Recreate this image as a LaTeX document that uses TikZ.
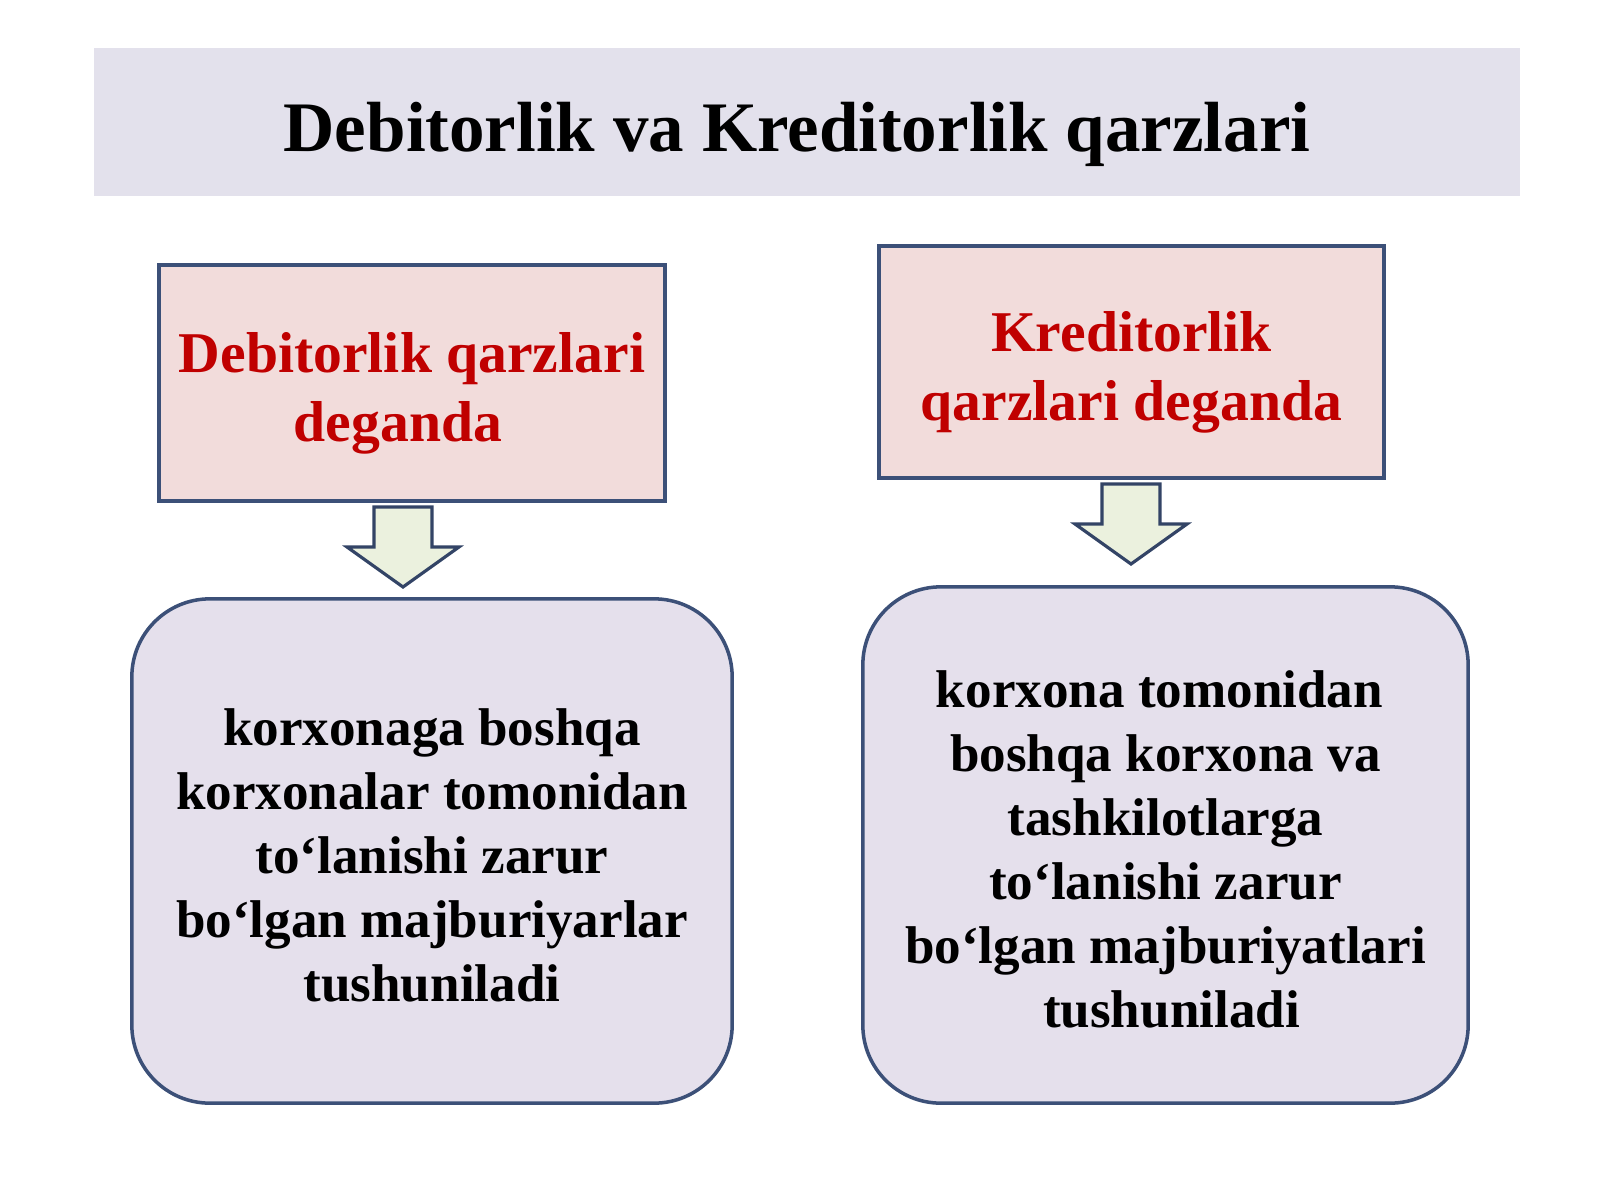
\documentclass[tikz,border=0pt]{standalone}
\usepackage{fontspec}
\setmainfont{Liberation Serif}
\usepackage{tikz}
\definecolor{bannergray}{HTML}{E3E1EC}
\definecolor{edgeblue}{HTML}{3C5078}
\definecolor{headpink}{HTML}{F2DCDB}
\definecolor{headred}{HTML}{C00000}
\definecolor{bodylilac}{HTML}{E5E0EC}
\definecolor{arrowgreen}{HTML}{EBF1DE}
\tikzset{
  qarz title/.style={font=\fontsize{20.2}{24}\selectfont\bfseries},
  qarz head/.style={draw=edgeblue, line width=1pt, fill=headpink},
  qarz headtext/.style={align=center, text=headred, font=\fontsize{16.4}{19.6}\selectfont\bfseries},
  qarz body/.style={draw=edgeblue, line width=1pt, fill=bodylilac, rounded corners=0.78cm},
  qarz bodytext/.style={align=center, font=\fontsize{15.1}{18.2}\selectfont\bfseries},
  qarz arrow/.style={draw=edgeblue!85!black, line width=0.9pt, fill=arrowgreen, line join=miter}
}
\begin{document}
\begin{tikzpicture}[x=0.01cm, y=-0.01cm]
\useasboundingbox (0,0) rectangle (1600,1200);
\node[fill=bannergray, minimum width=14.26cm, minimum height=1.48cm, inner sep=0pt] (banner) at (807,122) {};
\node[qarz title] (title) at (797,134) {Debitorlik va Kreditorlik qarzlari};
% yuqori qutilar
\node[qarz head, minimum width=5.06cm, minimum height=2.36cm] (debhead) at (412,383) {};
\node[qarz headtext] (debheadtext) at (412,393) {Debitorlik qarzlari\\deganda\hspace*{0.28cm}};
\node[qarz head, minimum width=5.05cm, minimum height=2.32cm] (kredhead) at (1131.5,362) {};
\node[qarz headtext] (kredheadtext) at (1131.5,372) {Kreditorlik\\qarzlari deganda};
% pastki qutilar
\node[qarz body, minimum width=6.00cm, minimum height=5.04cm] (debbody) at (432,851) {};
\node[qarz bodytext] (debbodytext) at (432,855)
  {korxonaga boshqa\\korxonalar tomonidan\\to‘lanishi zarur\\bo‘lgan majburiyarlar\\tushuniladi};
\node[qarz body, minimum width=6.05cm, minimum height=5.16cm] (kredbody) at (1165.5,845) {};
\node[qarz bodytext] (kredbodytext) at (1165.5,849)
  {korxona tomonidan\hspace*{0.12cm}\\boshqa korxona va\\tashkilotlarga\\to‘lanishi zarur\\bo‘lgan majburiyatlari\\\hspace*{0.12cm}tushuniladi};
% blok strelkalar
\foreach \cx/\ty in {403/507, 1131/484}
  \draw[qarz arrow] (\cx-29,\ty) -- (\cx+29,\ty) -- (\cx+29,\ty+40) -- (\cx+56,\ty+40)
    -- (\cx,\ty+80) -- (\cx-56,\ty+40) -- (\cx-29,\ty+40) -- cycle;
\end{tikzpicture}
\end{document}
